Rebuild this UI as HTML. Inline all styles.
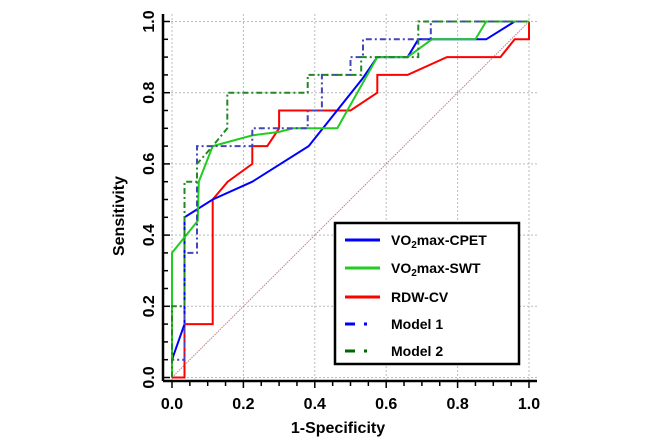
<!DOCTYPE html>
<html><head><meta charset="utf-8"><style>
html,body{margin:0;padding:0;background:#fff;}
svg{display:block;font-family:"Liberation Sans",Arial,sans-serif;font-weight:bold;}
</style></head><body>
<svg id="chart" width="666" height="438" viewBox="0 0 666 438" xmlns="http://www.w3.org/2000/svg">
<g id="grid"></g>
<g id="axes"></g>
<g id="series"></g>
<text x="338" y="433" font-size="16" text-anchor="middle">1-Specificity</text>
<text x="124" y="216" font-size="16" text-anchor="middle" transform="rotate(-90 124 216)">Sensitivity</text>
<g>
<rect x="335" y="223" width="184" height="141" fill="#fff" stroke="#000" stroke-width="2.5"/>
<g><line x1="345" y1="240" x2="380" y2="240" stroke="#0000ff" stroke-width="3"/><text x="391" y="245" font-size="14">VO<tspan font-size="10" dy="3">2</tspan><tspan dy="-3">max-CPET</tspan></text></g>
<g><line x1="345" y1="268" x2="380" y2="268" stroke="#22cc22" stroke-width="3"/><text x="391" y="273" font-size="14">VO<tspan font-size="10" dy="3">2</tspan><tspan dy="-3">max-SWT</tspan></text></g>
<g><line x1="345" y1="297" x2="380" y2="297" stroke="#ff0000" stroke-width="3"/><text x="391" y="302" font-size="14">RDW-CV</text></g>
<g><line x1="345" y1="324" x2="371" y2="324" stroke="#0000ff" stroke-width="3" stroke-dasharray="10 9 3 20"/><text x="391" y="329" font-size="14">Model 1</text></g>
<g><line x1="345" y1="351" x2="371" y2="351" stroke="#006600" stroke-width="3" stroke-dasharray="10 9 3 20"/><text x="391" y="356" font-size="14">Model 2</text></g>
</g>
</svg>
<script>
const ticks=[0,0.2,0.4,0.6,0.8,1.0];
const tickLabels=["0.0","0.2","0.4","0.6","0.8","1.0"];
const cpetX=[0,0.035,0.035,0.114,0.225,0.383,0.534,0.575,0.66,0.69,0.88,0.96,1.0];
const cpetY=[0.05,0.15,0.45,0.50,0.55,0.65,0.84,0.90,0.90,0.95,0.95,1.0,1.0];
const swtX=[0,0,0.072,0.075,0.114,0.225,0.30,0.34,0.463,0.575,0.66,0.728,0.85,0.88,1.0];
const swtY=[0,0.35,0.44,0.55,0.65,0.68,0.69,0.70,0.70,0.90,0.90,0.95,0.95,1.0,1.0];
const rdwX=[0,0.035,0.035,0.114,0.114,0.156,0.225,0.225,0.267,0.30,0.30,0.50,0.575,0.575,0.66,0.77,0.92,0.96,1.0,1.0];
const rdwY=[0,0,0.15,0.15,0.50,0.55,0.60,0.65,0.65,0.70,0.75,0.75,0.80,0.85,0.85,0.90,0.90,0.95,0.95,1.0];
const m1X=[0,0,0.035,0.035,0.07,0.07,0.225,0.225,0.38,0.38,0.42,0.42,0.50,0.50,0.535,0.535,0.725,0.725,1.0];
const m1Y=[0,0.05,0.05,0.35,0.35,0.65,0.65,0.70,0.70,0.75,0.75,0.85,0.85,0.90,0.90,0.95,0.95,1.0,1.0];
const m2X=[0,0,0.035,0.035,0.07,0.07,0.114,0.155,0.155,0.38,0.38,0.53,0.53,0.69,0.69,1.0];
const m2Y=[0,0.2,0.2,0.55,0.55,0.60,0.65,0.70,0.80,0.80,0.85,0.85,0.90,0.90,1.0,1.0];
const NS="http://www.w3.org/2000/svg";
const X0=172,X1=529,Y0=377.5,Y1=21.5;
function sx(v){return X0+v*(X1-X0);}
function sy(v){return Y0+v*(Y1-Y0);}
function mk(tag,attrs,parent){const e=document.createElementNS(NS,tag);for(const k in attrs)e.setAttribute(k,attrs[k]);parent.appendChild(e);return e;}
const grid=document.getElementById('grid'),axes=document.getElementById('axes'),ser=document.getElementById('series');
ticks.forEach((t,i)=>{
 const gv=mk('line',{x1:sx(t),x2:sx(t),y1:14,y2:381,stroke:'#bbb','stroke-width':1,'stroke-dasharray':'2 2'},grid);
 
 
 const gh=mk('line',{x1:163,x2:537,y1:sy(t),y2:sy(t),stroke:'#bbb','stroke-width':1,'stroke-dasharray':'2 2'},grid);
 
 
 const xl=mk('text',{x:sx(t),y:409,'font-size':16,'text-anchor':'middle'},axes);xl.textContent=tickLabels[i];
 
 
 const yl=mk('text',{x:154,y:sy(t),'font-size':16,'text-anchor':'middle',transform:`rotate(-90 154 ${sy(t)})`},axes);yl.textContent=tickLabels[i];
 
 
});
for(let k=0;k<=20;k++){const v=k/20,len=(k%4==0)?7:5;
 const tx=mk('line',{x1:sx(v),x2:sx(v),y1:381,y2:381+len,stroke:'#000','stroke-width':1.5},axes);
 
 
 const ty=mk('line',{x1:163,x2:163+len,y1:sy(v),y2:sy(v),stroke:'#000','stroke-width':1.5},axes);
 
 
}
const ax=mk('line',{x1:163,x2:537,y1:381,y2:381,stroke:'#000','stroke-width':2.5},axes);


const ay=mk('line',{x1:163,x2:163,y1:14,y2:381,stroke:'#000','stroke-width':2.5},axes);


const diag=mk('line',{x1:sx(0),y1:sy(0),x2:sx(1),y2:sy(1),stroke:'#c08080','stroke-width':1,'stroke-dasharray':'1.5 1'},ser);


function draw(xs,ys,color,dash,name){
 const pts=xs.map((x,i)=>sx(x).toFixed(1)+','+sy(ys[i]).toFixed(1)).join(' ');
 const p=mk('polyline',{points:pts,fill:'none',stroke:color,'stroke-width':2,'stroke-dasharray':dash||'none'},ser);
 
 
}
draw(rdwX,rdwY,'#ff0000',null,'rdw-cv-line');
draw(cpetX,cpetY,'#0000ff',null,'vo2max-cpet-line');
draw(swtX,swtY,'#22cc22',null,'vo2max-swt-line');
draw(m1X,m1Y,'#4444bb','6 3 2 3','model-1-line');
draw(m2X,m2Y,'#228822','6 3 2 3','model-2-line');
</script>
</body></html>
